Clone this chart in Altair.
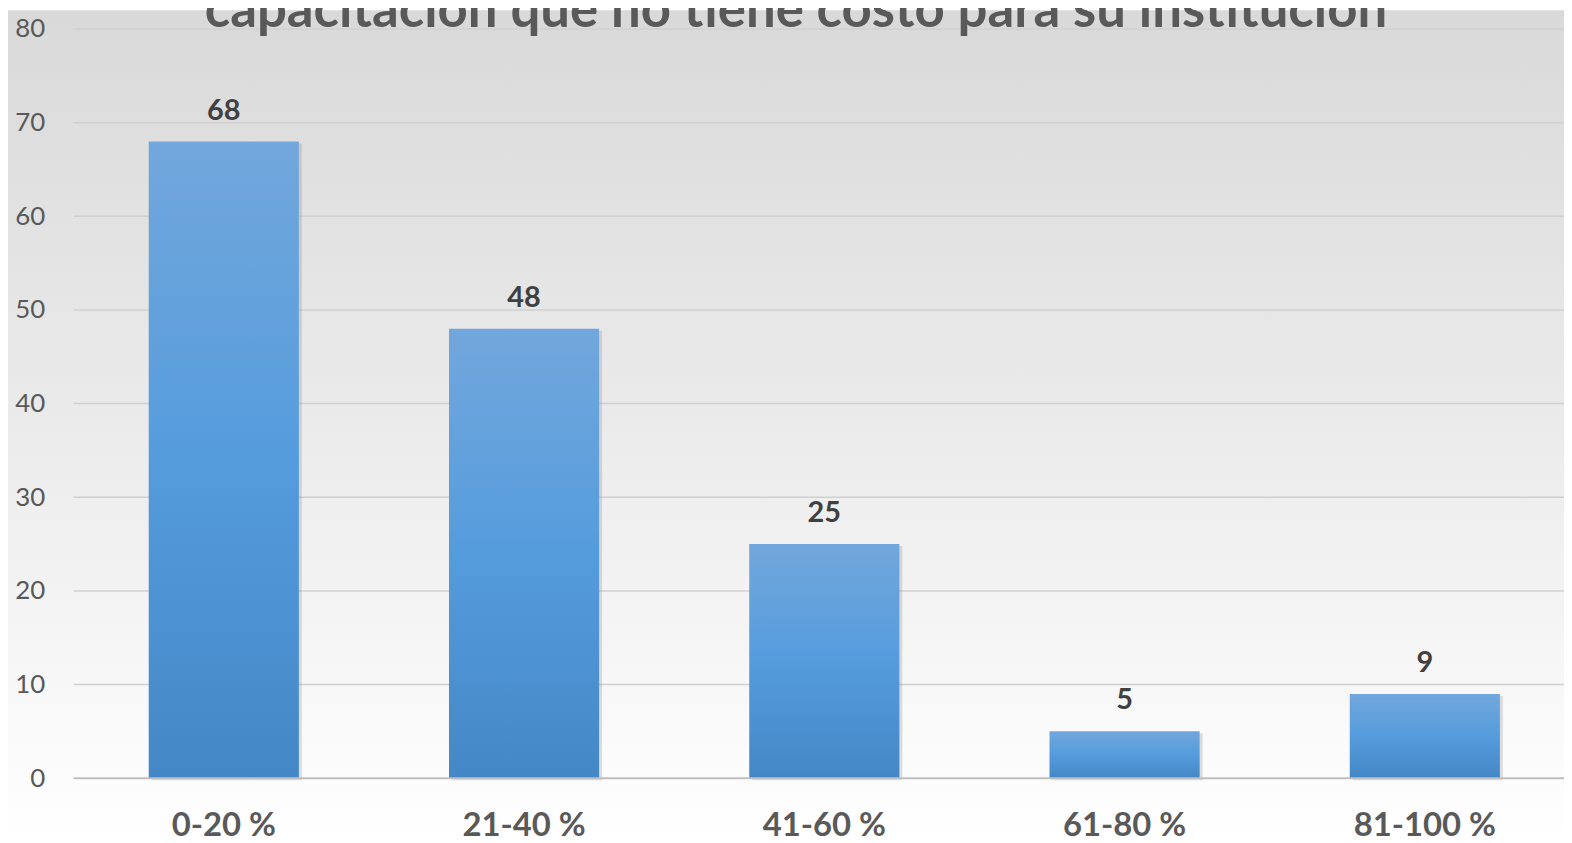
import altair as alt
import pandas as pd

categories = ["0-20 %", "21-40 %", "41-60 %", "61-80 %", "81-100 %"]
values = [68, 48, 25, 5, 9]
y_ticks = [0, 10, 20, 30, 40, 50, 60, 70, 80]
title_text = "capacitación que no tiene costo para su institución"

df = pd.DataFrame({"cat": categories, "val": values})
grid_df = pd.DataFrame({"val": y_ticks[1:]})

W, H = 1498, 753
PAD = {"left": 66, "right": 0, "top": 19, "bottom": 63}

xscale = alt.Scale(domain=categories, range=[0, 1509], paddingInner=0.5, paddingOuter=0.25)
yscale = alt.Scale(domain=[0, 80], nice=False)

x_enc = alt.X("cat:N", scale=xscale, sort=categories,
              axis=alt.Axis(title=None, domain=False, ticks=False, labelAngle=0, zindex=2,
                            labelFont="Lato", labelFontSize=33, labelFontWeight="bold",
                            labelColor="#595959", labelPadding=32))
y_axis = alt.Axis(title=None, values=y_ticks, domain=False, ticks=False, zindex=2,
                  labelFont="Lato", labelFontSize=26, labelColor="#595959",
                  labelPadding=29, grid=False)
y_enc = alt.Y("val:Q", scale=yscale, axis=y_axis)

bg = alt.Chart(alt.Data(values=[{}])).mark_rect(
    color=alt.Gradient(gradient="linear", x1=0, x2=0, y1=0, y2=1,
                       stops=[alt.GradientStop(offset=0, color="#d9d9d9"),
                              alt.GradientStop(offset=0.5, color="#ebebeb"),
                              alt.GradientStop(offset=1, color="#ffffff")])
).encode(x=alt.value(-PAD["left"]), x2=alt.value(W), y=alt.value(-PAD["top"]), y2=alt.value(H + PAD["bottom"]))

grid = alt.Chart(grid_df).mark_rule(color="#d0d0d0", strokeWidth=1.5).encode(
    x=alt.value(0), x2=alt.value(W), y=y_enc)

base = alt.Chart(df)

shadow = base.mark_bar(color="#808080", opacity=0.25, xOffset=3, yOffset=2).encode(x=x_enc, y=y_enc)

bars = base.mark_bar(
    color=alt.Gradient(gradient="linear", x1=0, x2=0, y1=0, y2=1,
                       stops=[alt.GradientStop(offset=0, color="#72a7dc"),
                              alt.GradientStop(offset=0.5, color="#559cdd"),
                              alt.GradientStop(offset=1, color="#4487c6")])
).encode(x=x_enc, y=y_enc)

zero = alt.Chart(alt.Data(values=[{}])).mark_rule(color="#bfbfbf", strokeWidth=2).encode(
    x=alt.value(0), x2=alt.value(W), y=alt.value(H))

labels = base.mark_text(font="Lato", fontSize=29, fontWeight="bold", color="#404040",
                        baseline="alphabetic", dy=-22).encode(
    x=x_enc, y=y_enc, text=alt.Text("val:Q"))

title = alt.Chart(alt.Data(values=[{}])).mark_text(
    font="Lato", fontSize=53, fontWeight="bold", color="#595959",
    align="center", baseline="alphabetic", text=title_text
).encode(x=alt.value(726), y=alt.value(-2))

chart = alt.layer(bg, grid, shadow, bars, zero, labels, title).properties(
    width=W, height=H, padding=PAD, autosize=alt.AutoSizeParams(type="none"),
    background="#ffffff"
).configure_view(stroke=None)

chart.save("out.html", embed_options={"renderer": "svg", "actions": False})
